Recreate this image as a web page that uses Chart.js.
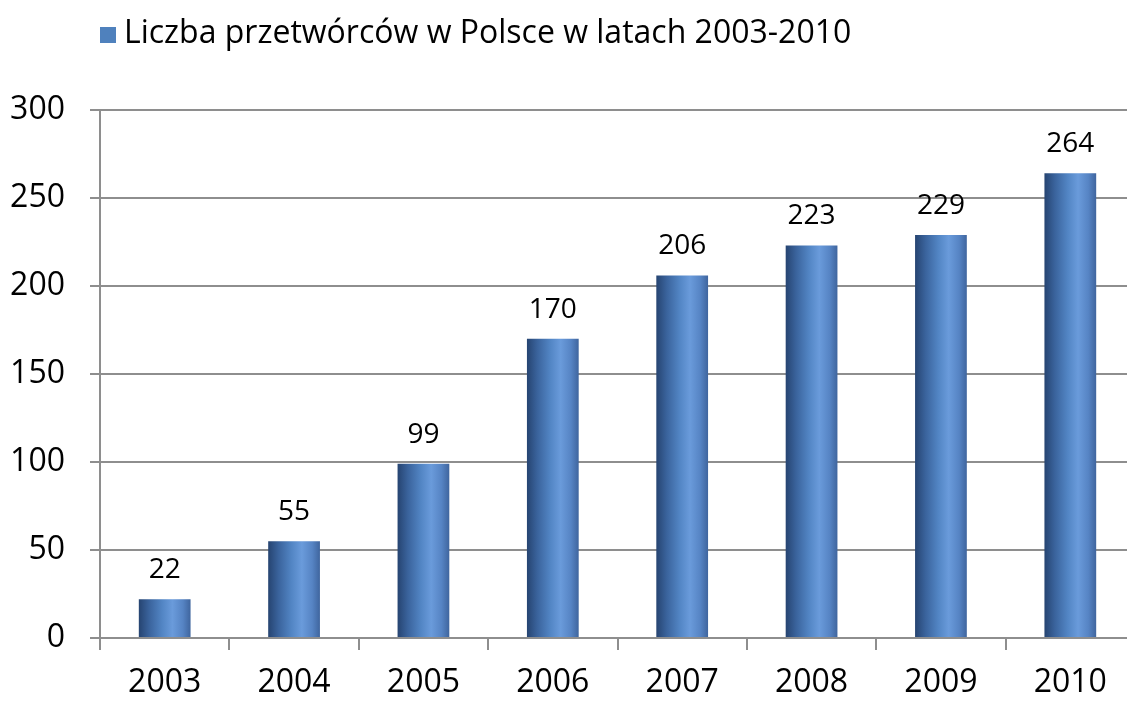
<!DOCTYPE html>
<html>
<head>
<meta charset="utf-8">
<script src="https://cdn.jsdelivr.net/npm/chart.js@4/dist/chart.umd.min.js"></script>
<style>
  html, body { margin: 0; padding: 0; background: #fff; overflow: hidden; }
  #wykres { display: block; }
</style>
</head>
<body>
<!-- płótno szersze od okna: obszar wykresu wychodzi poza prawą krawędź -->
<canvas id="wykres" width="1145" height="711"></canvas>
<script>
// dane wykresu
const lata = ['2003', '2004', '2005', '2006', '2007', '2008', '2009', '2010'];
const liczbaPrzetworcow = [22, 55, 99, 170, 206, 223, 229, 264];
const etykietaSerii = 'Liczba przetwórców w Polsce w latach 2003-2010';

const kolorSiatki = '#8e8e8e';
const czcionka = "'Open Sans', 'Noto Sans', sans-serif";

// cieniowanie słupka jak walec (ciemna lewa krawędź, jasny środek)
function gradientSlupka(context) {
  const chart = context.chart;
  const x = chart.scales.x;
  if (!chart.chartArea || !x) return '#4f81bd';
  const szer = (x.width / lata.length) * 0.4;
  const srodek = x.getPixelForValue(context.dataIndex);
  const g = chart.ctx.createLinearGradient(srodek - szer / 2, 0, srodek + szer / 2, 0);
  g.addColorStop(0, '#264471');
  g.addColorStop(0.2, '#3a639c');
  g.addColorStop(0.45, '#5285c4');
  g.addColorStop(0.65, '#6a9bdb');
  g.addColorStop(0.85, '#5684c4');
  g.addColorStop(1, '#3f659e');
  return g;
}

// wartości nad słupkami
const etykietyWartosci = {
  id: 'etykietyWartosci',
  afterDatasetsDraw(chart) {
    const ctx = chart.ctx;
    const meta = chart.getDatasetMeta(0);
    ctx.save();
    ctx.font = '28px ' + czcionka;
    ctx.fillStyle = '#000';
    ctx.textAlign = 'center';
    ctx.textBaseline = 'middle';
    meta.data.forEach((bar, i) => {
      ctx.fillText(String(liczbaPrzetworcow[i]), bar.x, bar.y - 29);
    });
    ctx.restore();
  }
};

// legenda w lewym górnym rogu
const legendaGora = {
  id: 'legendaGora',
  afterDraw(chart) {
    const ctx = chart.ctx;
    ctx.save();
    ctx.fillStyle = '#4f81bd';
    ctx.fillRect(100, 27, 16, 16);
    ctx.font = '32px ' + czcionka;
    ctx.fillStyle = '#000';
    ctx.textBaseline = 'middle';
    ctx.fillText(chart.data.datasets[0].label, 124, 34);
    ctx.restore();
  }
};

const ctx = document.getElementById('wykres').getContext('2d');
const wykres = new Chart(ctx, {
  type: 'bar',
  data: {
    labels: lata,
    datasets: [{
      label: etykietaSerii,
      data: liczbaPrzetworcow,
      backgroundColor: gradientSlupka,
      categoryPercentage: 1.0,
      barPercentage: 0.4
    }]
  },
  options: {
    responsive: false,
    animation: false,
    layout: { padding: { top: 110, right: 10, bottom: 0, left: 0 } },
    plugins: {
      legend: { display: false },
      tooltip: { enabled: false }
    },
    scales: {
      x: {
        afterFit(scale) { scale.height = 73; },
        grid: {
          offset: true,
          drawOnChartArea: false,
          drawTicks: true,
          tickLength: 12,
          color: kolorSiatki,
          lineWidth: 2
        },
        border: { color: kolorSiatki, width: 2 },
        ticks: {
          padding: 14,
          color: '#000',
          font: { family: czcionka, size: 32 }
        }
      },
      y: {
        min: 0,
        max: 300,
        afterFit(scale) { scale.width = 100; },
        grid: {
          color: kolorSiatki,
          lineWidth: 2,
          drawTicks: true,
          tickLength: 10
        },
        border: { color: kolorSiatki, width: 2 },
        ticks: {
          stepSize: 50,
          padding: 25,
          color: '#000',
          font: { family: czcionka, size: 32 }
        }
      }
    }
  },
  plugins: [etykietyWartosci, legendaGora]
});
</script>
</body>
</html>
